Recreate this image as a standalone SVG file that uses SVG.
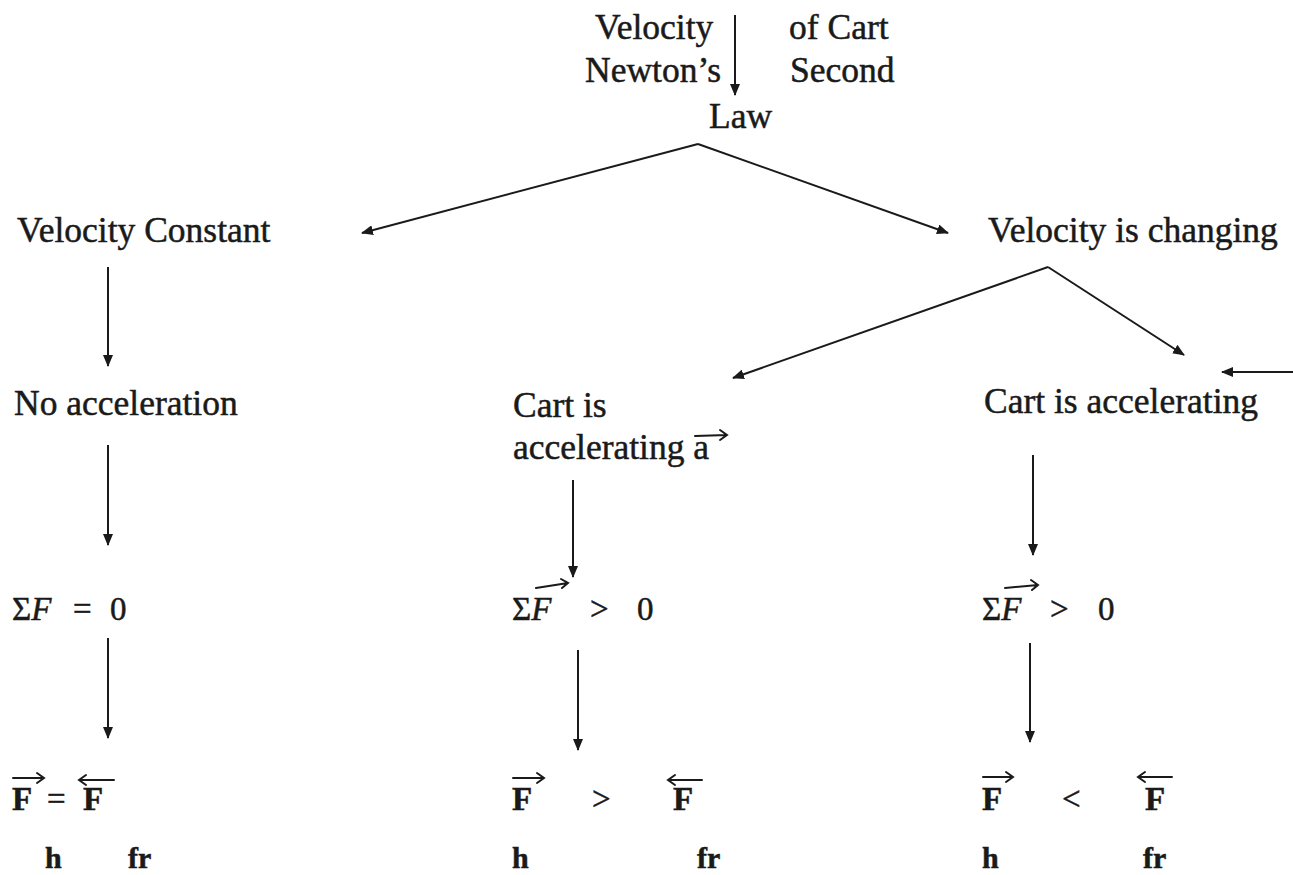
<svg xmlns="http://www.w3.org/2000/svg" width="1293" height="875" viewBox="0 0 1293 875">
<style>
text{font-family:"Liberation Serif","Times New Roman",serif;font-size:35.5px;fill:#1a1a1a;stroke:#1a1a1a;stroke-width:0.5}
.m{font-size:33px}
.b{font-weight:bold}
.i{font-style:italic}
.s{font-size:30px;font-weight:bold}
.c{stroke:#1a1a1a;stroke-width:2;fill:none}
.ov{stroke:#1a1a1a;stroke-width:2;fill:none;stroke-linecap:round}
</style>
<defs>
<marker id="ah" markerUnits="userSpaceOnUse" markerWidth="12" markerHeight="10" refX="11" refY="5" orient="auto">
<path d="M0,0 L12,5 L0,10 Z" fill="#1a1a1a"/>
</marker>
</defs>
<rect width="1293" height="875" fill="#fff"/>
<g id="connectors">
<line class="c" x1="735" y1="15" x2="735" y2="95" marker-end="url(#ah)"/>
<line class="c" x1="698" y1="144" x2="362" y2="233" marker-end="url(#ah)"/>
<line class="c" x1="698" y1="144" x2="948" y2="233" marker-end="url(#ah)"/>
<line class="c" x1="1048" y1="267" x2="733" y2="378" marker-end="url(#ah)"/>
<line class="c" x1="1048" y1="267" x2="1184" y2="355" marker-end="url(#ah)"/>
<line class="c" x1="1293" y1="372" x2="1222" y2="372" marker-end="url(#ah)"/>
<line class="c" x1="108" y1="267" x2="108" y2="366" marker-end="url(#ah)"/>
<line class="c" x1="108" y1="445" x2="108" y2="545" marker-end="url(#ah)"/>
<line class="c" x1="573" y1="480" x2="573" y2="577" marker-end="url(#ah)"/>
<line class="c" x1="1033" y1="455" x2="1033" y2="555" marker-end="url(#ah)"/>
<line class="c" x1="108" y1="638" x2="108" y2="738" marker-end="url(#ah)"/>
<line class="c" x1="578" y1="650" x2="578" y2="750" marker-end="url(#ah)"/>
<line class="c" x1="1030" y1="643" x2="1030" y2="742" marker-end="url(#ah)"/>
</g>
<g id="top">
<text x="595" y="39">Velocity</text>
<text x="789" y="39">of Cart</text>
<text x="585" y="82">Newton’s</text>
<text x="790" y="82">Second</text>
<text x="709" y="128">Law</text>
</g>
<g id="velocity-constant"><text x="17" y="242">Velocity Constant</text></g>
<g id="velocity-changing"><text x="988" y="242">Velocity is changing</text></g>
<g id="no-acceleration"><text x="14" y="415">No acceleration</text></g>
<g id="cart-accelerating-a">
<text x="513" y="417">Cart is</text>
<text x="513" y="459">accelerating a</text>
<path class="ov" d="M695,436 L727,435 M720,430 L727,435 L720,440"/>
</g>
<g id="cart-accelerating"><text x="984" y="413">Cart is accelerating</text></g>
<g id="sumF-zero">
<text class="m" x="12" y="620">Σ<tspan class="i">F</tspan></text>
<text class="m" x="73" y="620">=</text>
<text class="m" x="110" y="620">0</text>
</g>
<g id="sumF-pos-mid">
<text class="m" x="512" y="620">Σ<tspan class="i">F</tspan></text>
<path class="ov" d="M536,588 L568,583 M561,579 L568,583 L562,588"/>
<text class="m" x="590" y="620">&gt;</text>
<text class="m" x="637" y="620">0</text>
</g>
<g id="sumF-pos-right">
<text class="m" x="982" y="620">Σ<tspan class="i">F</tspan></text>
<path class="ov" d="M1005,588 L1038,585 M1031,580 L1038,585 L1032,590"/>
<text class="m" x="1050" y="620">&gt;</text>
<text class="m" x="1098" y="620">0</text>
</g>
<g id="forces-equal">
<text class="m b" x="12" y="810">F</text>
<path class="ov" d="M13,778 L44,778 M37,773 L44,778 L37,783"/>
<text class="m" x="47" y="810">=</text>
<text class="m b" x="83" y="810">F</text>
<path class="ov" d="M114,780 L79,780 M86,775 L79,780 L86,785"/>
<text class="s" x="45" y="868">h</text>
<text class="s" x="128" y="868">fr</text>
</g>
<g id="forces-greater">
<text class="m b" x="512" y="810">F</text>
<path class="ov" d="M513,778 L544,778 M537,773 L544,778 L537,783"/>
<text class="m" x="592" y="810">&gt;</text>
<text class="m b" x="673" y="810">F</text>
<path class="ov" d="M702,780 L668,780 M675,775 L668,780 L675,785"/>
<text class="s" x="512" y="868">h</text>
<text class="s" x="697" y="868">fr</text>
</g>
<g id="forces-less">
<text class="m b" x="982" y="810">F</text>
<path class="ov" d="M983,777 L1013,777 M1006,772 L1013,777 L1006,782"/>
<text class="m" x="1062" y="810">&lt;</text>
<text class="m b" x="1145" y="810">F</text>
<path class="ov" d="M1172,777 L1138,777 M1145,772 L1138,777 L1145,782"/>
<text class="s" x="982" y="868">h</text>
<text class="s" x="1143" y="868">fr</text>
</g>
</svg>
